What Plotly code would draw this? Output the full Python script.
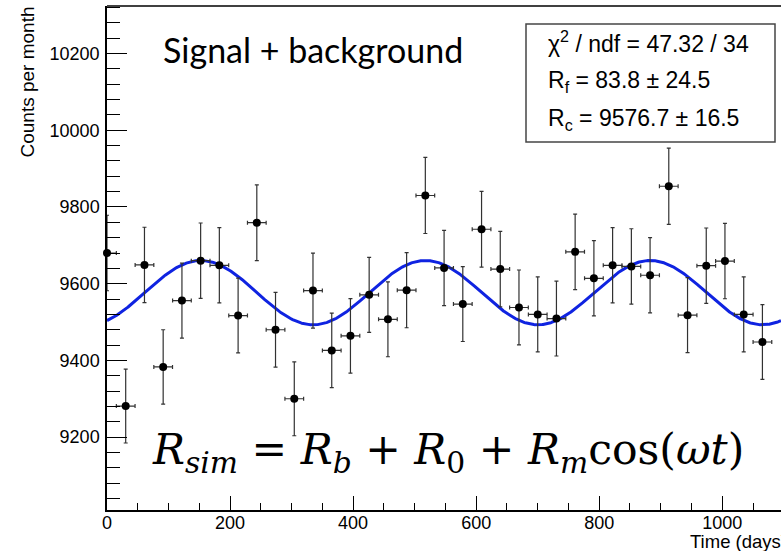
import numpy as np
import plotly.graph_objects as go

# Monthly bins: centre of each bin (days) and counts per month
days = [0.0, 30.4, 60.9, 91.3, 121.8, 152.2, 182.6, 213.1, 243.5, 273.9,
        304.4, 334.8, 365.3, 395.7, 426.1, 456.6, 487.0, 517.4, 547.9, 578.3,
        608.8, 639.2, 669.6, 700.1, 730.5, 760.9, 791.4, 821.8, 852.3, 882.7,
        913.1, 943.6, 974.0, 1004.4, 1034.9, 1065.3]
counts = [9680, 9281, 9649, 9383, 9556, 9660, 9648, 9517, 9759, 9480,
          9300, 9582, 9426, 9464, 9571, 9507, 9583, 9830, 9641, 9547,
          9742, 9638, 9538, 9520, 9509, 9683, 9614, 9648, 9645, 9622,
          9854, 9518, 9647, 9659, 9520, 9448]
count_err = [98.4, 96.3, 98.2, 96.9, 97.8, 98.3, 98.2, 97.6, 98.8, 97.4,
             96.4, 97.9, 97.1, 97.3, 97.8, 97.5, 97.9, 99.1, 98.2, 97.7,
             98.7, 98.2, 97.7, 97.6, 97.5, 98.4, 98.1, 98.2, 98.2, 98.1,
             99.3, 97.6, 98.2, 98.3, 97.6, 97.2]
bin_half_width = 15.2

# Fit result: R_c + R_f * cos(2*pi*(t - t0)/T)
chi2, ndf = 47.32, 34
r_f, r_f_err = 83.8, 24.5
r_c, r_c_err = 9576.7, 16.5
period_days = 365.25
phase_day = 152.5

x_range = [0, 1095.5]
y_range = [9010, 10324]

W, H = 781, 551
ML, MR, MT, MB = 107, 0, 6, 41
PW, PH = W - ML - MR, H - MT - MB


def px_x(px):
    return (px - ML) / PW


def px_y(py):
    return (H - MB - py) / PH


t_fit = np.linspace(x_range[0], x_range[1], 800)
y_fit = r_c + r_f * np.cos(2 * np.pi * (t_fit - phase_day) / period_days)

fig = go.Figure()

fig.add_trace(go.Scatter(
    x=t_fit, y=y_fit, mode="lines",
    line=dict(color="rgb(15,35,225)", width=3),
    hoverinfo="skip", showlegend=False,
))

fig.add_trace(go.Scatter(
    x=days, y=counts, mode="markers",
    marker=dict(color="black", size=8),
    error_y=dict(type="data", array=count_err, color="rgb(50,50,50)",
                 thickness=1.2, width=2),
    error_x=dict(type="constant", value=bin_half_width, color="rgb(50,50,50)",
                 thickness=1.2, width=2),
    cliponaxis=False,
    showlegend=False,
))

axis_font = dict(family="Liberation Sans, Arial, sans-serif", color="black")

fig.update_xaxes(
    range=x_range, showgrid=False, zeroline=False,
    showline=True, linecolor="black", linewidth=1.5,
    ticks="inside", ticklen=14, tickwidth=1.3, tickcolor="black",
    tick0=0, dtick=200, tickformat="d",
    minor=dict(ticks="inside", ticklen=7, tickwidth=1.3, tickcolor="black", dtick=50),
    tickfont=dict(size=18, **axis_font),
    ticklabelstandoff=-4,
)
fig.update_yaxes(
    range=y_range, showgrid=False, zeroline=False,
    showline=True, linecolor="black", linewidth=1.5,
    ticks="inside", ticklen=20, tickwidth=1.3, tickcolor="black",
    tick0=0, dtick=200, tickformat="d",
    minor=dict(ticks="inside", ticklen=13, tickwidth=1.3, tickcolor="black", dtick=40),
    tickfont=dict(size=18, **axis_font),
    ticklabelstandoff=2,
)

shapes = [
    # top edge of the frame
    dict(type="line", xref="paper", yref="paper", x0=0, x1=1, y0=1, y1=1,
         line=dict(color="black", width=1.5)),
    # statistics box
    dict(type="rect", xref="paper", yref="paper",
         x0=px_x(526), x1=px_x(775), y0=px_y(142), y1=px_y(24),
         line=dict(color="rgb(70,70,70)", width=1.5), fillcolor="white"),
]

stat_font = dict(family="Liberation Sans, Arial, sans-serif", size=23, color="black")
stat_lines = [
    f"χ<sup>2</sup> / ndf = {chi2:.2f} / {ndf}",
    f"R<sub>f</sub> = {r_f:.1f} ± {r_f_err:.1f}",
    f"R<sub>c</sub> = {r_c:.1f} ± {r_c_err:.1f}",
]
stat_centres = [42, 81, 120]

annotations = []
for txt, cy in zip(stat_lines, stat_centres):
    annotations.append(dict(
        text=txt, xref="paper", yref="paper", x=px_x(546), y=px_y(cy),
        xanchor="left", yanchor="middle", showarrow=False, font=stat_font,
    ))

annotations += [
    dict(text="Signal + background", xref="paper", yref="paper",
         x=px_x(161), y=px_y(49), xanchor="left", yanchor="middle",
         showarrow=False,
         font=dict(family="Lato, sans-serif", size=34, color="black")),
    dict(text=("<i>R</i><sub><i>sim</i></sub> = <i>R</i><sub><i>b</i></sub> + "
               "<i>R</i><sub>0</sub> + <i>R</i><sub><i>m</i></sub>cos(<i>ωt</i>)"),
         xref="paper", yref="paper", x=px_x(150), y=px_y(452),
         xanchor="left", yanchor="middle", showarrow=False,
         font=dict(family="DejaVu Serif, serif", size=42.5, color="black")),
    dict(text="Counts per month", xref="paper", yref="paper",
         x=px_x(27), y=px_y(5), xanchor="center", yanchor="top",
         textangle=-90, showarrow=False,
         font=dict(size=19, **axis_font)),
    dict(text="Time (days)", xref="paper", yref="paper",
         x=px_x(789), y=px_y(541), xanchor="right", yanchor="middle",
         showarrow=False, font=dict(size=18.5, **axis_font)),
]

fig.update_layout(
    width=W, height=H,
    margin=dict(l=ML, r=MR, t=MT, b=MB),
    paper_bgcolor="white", plot_bgcolor="white",
    shapes=shapes, annotations=annotations,
    showlegend=False,
)

fig.write_html("out.html")
